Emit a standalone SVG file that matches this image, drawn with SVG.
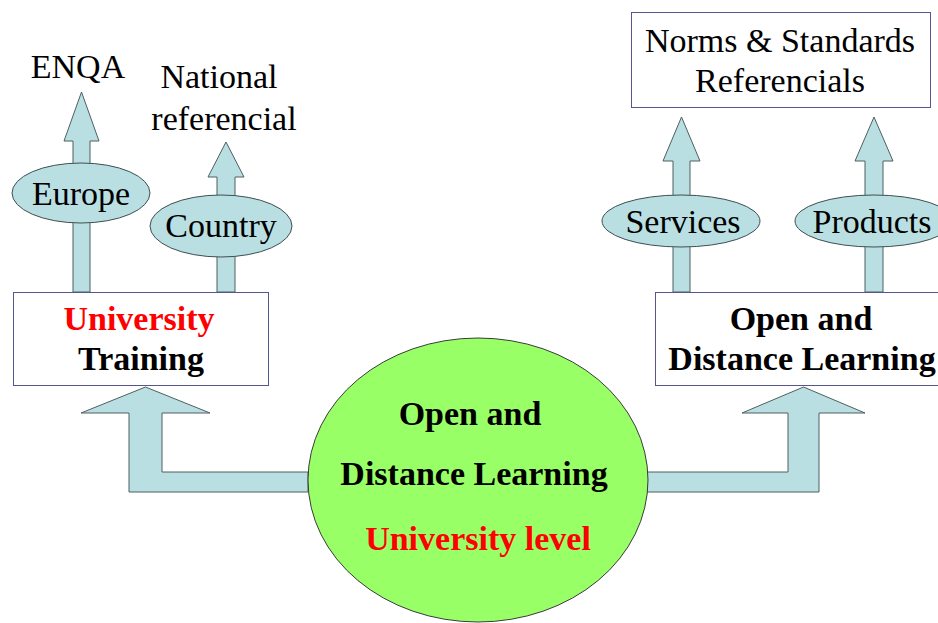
<svg xmlns="http://www.w3.org/2000/svg" width="938" height="623" viewBox="0 0 938 623">
  <style>
    .arrow { fill: #b9dfe2; stroke: #4f5f60; stroke-width: 1; stroke-linejoin: miter; }
    .oval { fill: #b9dfe2; stroke: #3f4f50; stroke-width: 1; }
    .box { fill: #ffffff; stroke: #55558f; stroke-width: 1; }
    .hub { fill: #99ff66; stroke: #3a3a3a; stroke-width: 1; }
    text { font-family: "Liberation Serif", "Times New Roman", serif; font-size: 34px; text-anchor: middle; fill: #000000; }
    .b { font-weight: bold; }
    .red { fill: #ff0000; }
  </style>
  <rect width="938" height="623" fill="#ffffff"/>

  <!-- block arrows -->
  <g id="connectors">
    <polygon class="arrow" points="145.5,387 210,413 162,413 162,472 308,472 308,492 129,492 129,413 81,413"/>
    <polygon class="arrow" points="803.5,387 865,413 819,413 819,492 647,492 647,472 788,472 788,413 742,413"/>
    <polygon class="arrow" points="81.5,92 99,141 90,141 90,292 73,292 73,141 64,141"/>
    <polygon class="arrow" points="226,142 244,177 235,177 235,292 217,292 217,177 208,177"/>
    <polygon class="arrow" points="681.5,117 700,161 690,161 690,292 673,292 673,161 663,161"/>
    <polygon class="arrow" points="874,117 893,161 883,161 883,292 865,292 865,161 855,161"/>
  </g>

  <g id="hub">
    <ellipse class="hub" cx="478" cy="480" rx="170" ry="142"/>
    <text class="b" x="470" y="425">Open and</text>
    <text class="b" x="474" y="485">Distance Learning</text>
    <text class="b red" x="478" y="550">University level</text>
  </g>

  <g id="university-training">
    <rect class="box" x="13.5" y="292.5" width="255" height="93"/>
    <text class="b red" x="139" y="330">University</text>
    <text class="b" x="141" y="370">Training</text>
  </g>

  <g id="odl-box">
    <rect class="box" x="655.5" y="292.5" width="300" height="93"/>
    <text class="b" x="801" y="330">Open and</text>
    <text class="b" x="802" y="370">Distance Learning</text>
  </g>

  <g id="europe">
    <ellipse class="oval" cx="81" cy="193" rx="69" ry="30"/>
    <text x="81" y="205">Europe</text>
  </g>

  <g id="country">
    <ellipse class="oval" cx="221" cy="226" rx="71" ry="31"/>
    <text x="221" y="237">Country</text>
  </g>

  <g id="enqa">
    <text x="78" y="78">ENQA</text>
  </g>

  <g id="national-referencial">
    <text x="219" y="88">National</text>
    <text x="224" y="130">referencial</text>
  </g>

  <g id="services">
    <ellipse class="oval" cx="681" cy="221" rx="79" ry="26"/>
    <text x="683" y="233">Services</text>
  </g>

  <g id="products">
    <ellipse class="oval" cx="874" cy="221" rx="79" ry="26"/>
    <text x="872" y="233">Products</text>
  </g>

  <g id="norms">
    <rect class="box" x="631.5" y="12.5" width="299" height="95"/>
    <text x="780" y="52">Norms &amp; Standards</text>
    <text x="780" y="92">Referencials</text>
  </g>
</svg>
